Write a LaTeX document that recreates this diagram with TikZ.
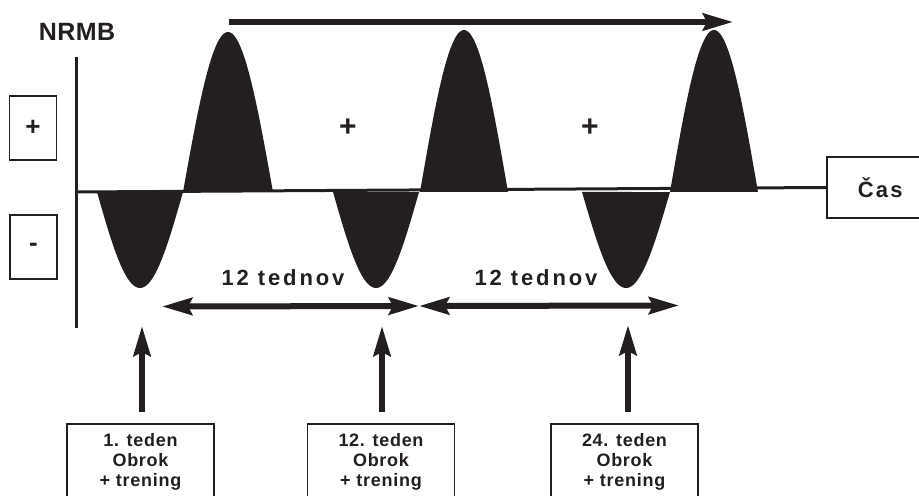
\documentclass[tikz,border=0pt]{standalone}
\usepackage{fontspec}
\setmainfont{Liberation Sans}
\newfontfamily\widefont[LetterSpace=13]{Liberation Sans}
\newfontfamily\casfont[LetterSpace=10]{Liberation Sans}
\newfontfamily\headfont[LetterSpace=2]{Liberation Sans}
\newfontfamily\boxfont[LetterSpace=4]{Liberation Sans}
\usetikzlibrary{arrows.meta}
\definecolor{ink}{RGB}{35,31,32}

% one half-wave of the curve: start x, end x, signed amplitude
\newcommand\wavelobe[3]{%
  \fill[ink] plot[domain=#1:#2, samples=90, smooth]
    (\x, {192 - (#3)*sin(180*(\x-#1)/(#2-#1))}) -- cycle;}

\begin{document}
\begin{tikzpicture}[x=1bp, y=-1bp,
  every node/.style={text=ink},
  signbox/.style={draw=ink, line width=1.5bp, minimum width=47bp, minimum height=64bp,
    inner sep=0pt, font=\fontsize{26bp}{28bp}\selectfont\bfseries},
  weekbox/.style={draw=ink, line width=1.5bp, minimum width=147bp, minimum height=76bp,
    inner sep=0pt, align=center, font=\boxfont\fontsize{18bp}{20bp}\selectfont\bfseries},
  axisline/.style={draw=ink, line width=3bp},
  thickarrow/.style={draw=ink, line width=6bp,
    -{Stealth[length=30bp, width=17bp, inset=4bp]}},
  spanarrow/.style={draw=ink, line width=6bp,
    {Stealth[length=30bp, width=17bp, inset=4bp]}-{Stealth[length=30bp, width=17bp, inset=4bp]}},
  spanlabel/.style={font=\widefont\fontsize{22bp}{24bp}\selectfont\bfseries},
  plusmark/.style={font=\fontsize{30bp}{32bp}\selectfont\bfseries}]

\clip (0,0) rectangle (919,496);
\useasboundingbox (0,0) rectangle (919,496);

% wave
\wavelobe{97}{183}{-96}
\wavelobe{183}{273}{160}
\wavelobe{333}{419}{-96}
\wavelobe{420}{508}{162}
\wavelobe{582}{670}{-96}
\wavelobe{670}{758}{162}

% axes
\node[draw=ink, line width=1.5bp, minimum width=96bp, minimum height=61bp, inner sep=0pt,
  anchor=west, font=\casfont\fontsize{22bp}{24bp}\selectfont\bfseries] (cas) at (826,187.5) {\hspace*{11bp}Čas};
\coordinate (origin) at (76,192);
\coordinate (ytop) at (76,57);
\coordinate (ybot) at (76,328);
\draw[axisline] (ytop) -- (ybot);
\draw[axisline] (origin) -- (cas.west);

\node[font=\headfont\fontsize{25bp}{27bp}\selectfont\bfseries] (nrmb) at (77,32) {NRMB};

% sign boxes
\node[signbox] (plusbox) at (33,128) {+};
\node[signbox] (minusbox) at (33.5,247) {-};
\node[plusmark] (plusA) at (348,128) {+};
\node[plusmark] (plusB) at (590,128) {+};

% time arrow
\coordinate (tstart) at (229,22);
\coordinate (tend) at (733,22);
\draw[thickarrow] (tstart) -- (tend);

% 12-week spans
\coordinate (s0) at (162,306.5);
\coordinate (s1) at (419,306);
\coordinate (s2) at (679,305.5);
\draw[spanarrow] (s0) -- (s1);
\draw[spanarrow] (s1) -- (s2);
\node[spanlabel] (spanA) at (283,278) {12 tednov};
\node[spanlabel] (spanB) at (536,278) {12 tednov};

% week boxes
\node[weekbox] (wk1) at (140.5,462) {1. teden\\Obrok\\+ trening};
\node[weekbox] (wk2) at (381,462) {12. teden\\Obrok\\+ trening};
\node[weekbox] (wk3) at (624.5,462) {24. teden\\Obrok\\+ trening};

\coordinate (tip1) at (142,326);
\coordinate (tip2) at (382,326);
\coordinate (tip3) at (628,325);
\draw[thickarrow, shorten <=11bp] (wk1.north -| tip1) -- (tip1);
\draw[thickarrow, shorten <=11bp] (wk2.north -| tip2) -- (tip2);
\draw[thickarrow, shorten <=11bp] (wk3.north -| tip3) -- (tip3);
\end{tikzpicture}
\end{document}
